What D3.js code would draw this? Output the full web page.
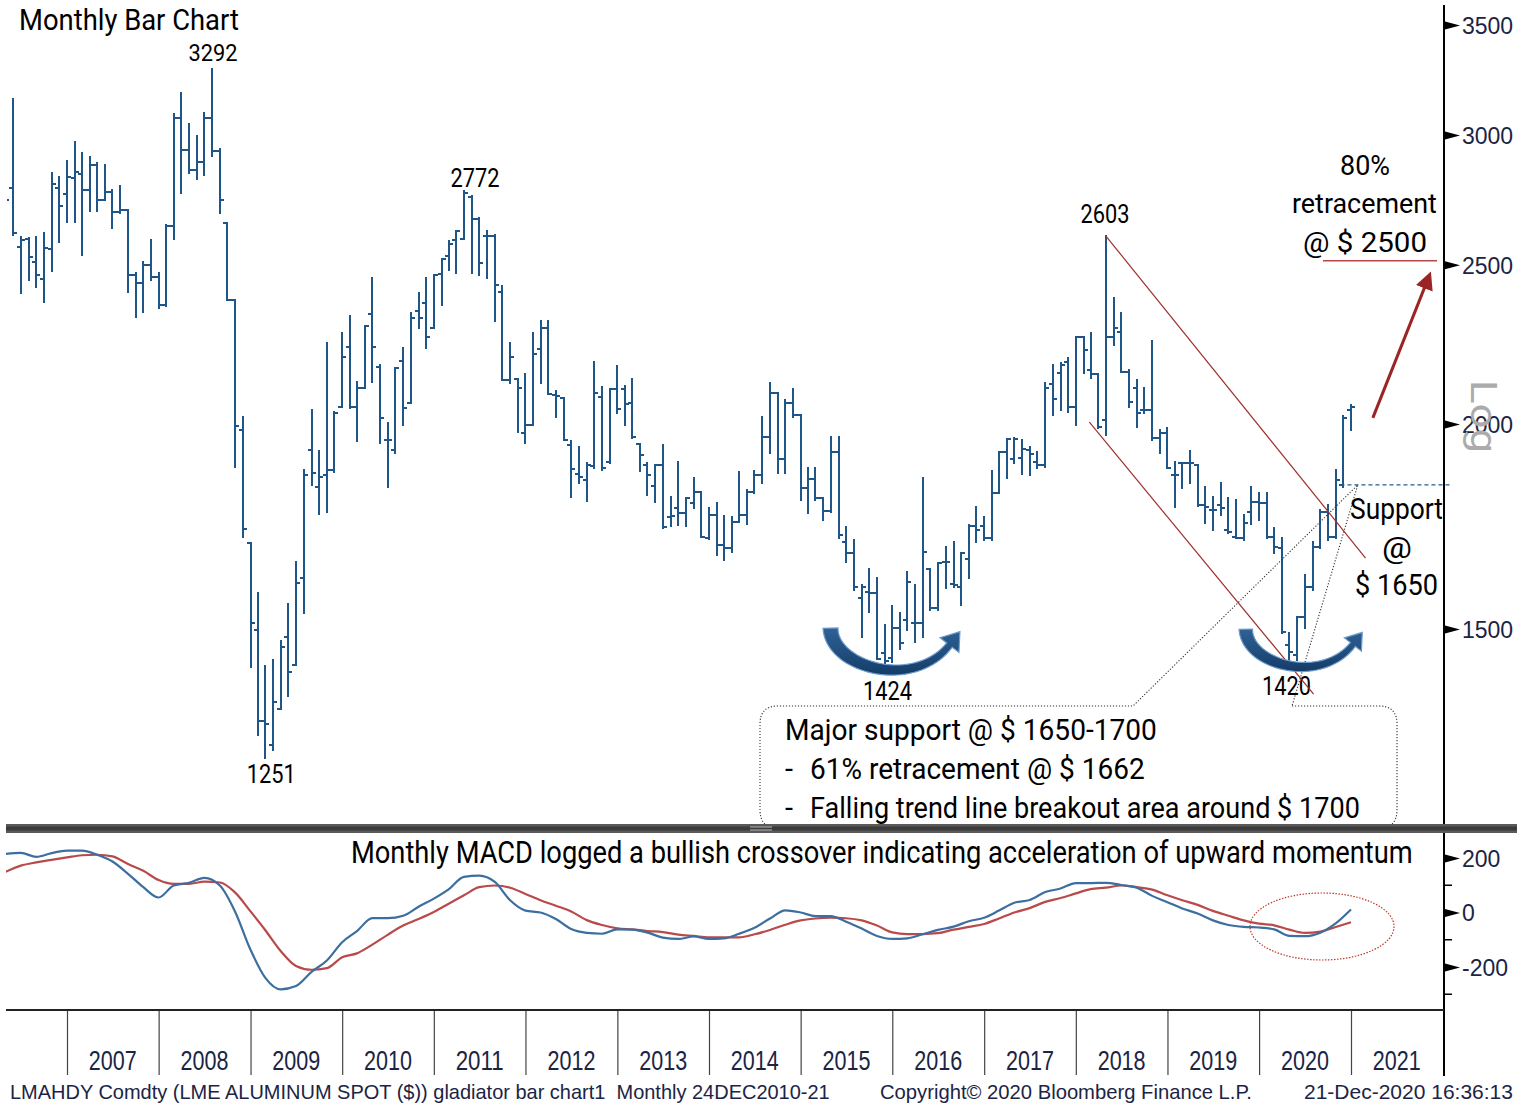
<!DOCTYPE html>
<html>
<head>
<meta charset="utf-8">
<script src="https://cdn.jsdelivr.net/npm/d3@7"></script>
<style>
  body { margin: 0; background: #fff; }
  svg { display: block; }
  .ann { font-family: Roboto, "Liberation Sans", sans-serif; fill: #000; }
  .axl { font-family: "Liberation Sans", Arial, sans-serif; fill: #1b2444; }
</style>
</head>
<body>
<svg id="chart" width="1517" height="1104"></svg>
<script>
// ---- data: LME aluminium spot, monthly bars from Apr 2006 to Dec 2020 ----
const firstBar = [2006, 3]; // April 2006 (0-based month)

const opens = [
  2700,2785,2563,2592,2510,2451,2556,2785,2761,
  2824,2840,2777,2876,2738,2769,2692,2700,2465,2437,2500,2458,
  2363,2640,3072,2937,2856,2888,3072,2933,2651,2380,1983,1692,
  1498,1318,1275,1341,1483,1426,1611,1928,1830,1862,1875,2048,
  2228,2048,2104,2334,2166,1956,1928,2185,2060,2343,2370,2288,
  2468,2531,2589,2592,2750,2666,2603,2603,2406,2127,2130,1975,
  1997,2222,2289,2083,2074,1942,1864,1849,1885,2077,1896,2100,
  2100,2060,1945,1888,1833,1888,1755,1778,1765,1790,1818,1704,
  1760,1688,1681,1743,1760,1818,1862,1964,2089,1904,2060,2025,
  1828,1852,1803,1770,1923,1695,1669,1567,1580,1578,1450,1440,
  1502,1519,1513,1513,1632,1545,1648,1598,1591,1655,1733,1733,
  1704,1815,1923,1904,1907,1928,1896,1888,2115,2148,2182,2048,
  2260,2157,2145,2011,2260,2275,2151,2104,2040,2040,1961,1975,
  1862,1893,1893,1888,1785,1773,1785,1724,1707,1704,1768,1793,
  1790,1707,1681,1467,1446,1526,1591,1683,1768,1707,1836,2040
];
const highs = [
  2816,3155,2600,2596,2600,2614,2844,2828,2892,
  2970,2925,2908,2884,2876,2777,2792,2700,2472,2510,2589,2472,
  2644,3089,3182,3046,2995,3093,3292,2940,2651,2380,2020,1692,
  1578,1424,1436,1475,1554,1648,1875,2040,1926,2241,2034,2272,
  2327,2121,2295,2455,2172,2003,2163,2225,2337,2403,2455,2465,
  2521,2585,2622,2772,2754,2670,2622,2607,2427,2241,2130,2145,
  2272,2311,2311,2095,2074,1953,1936,1893,2182,2106,2100,2169,
  2109,2130,1945,1893,1888,1942,1805,1896,1803,1854,1818,1778,
  1790,1758,1755,1870,1823,1872,2020,2118,2089,2068,2100,2025,
  1880,1880,1803,1964,1964,1731,1700,1596,1632,1611,1509,1549,
  1534,1625,1596,1854,1632,1646,1683,1695,1669,1736,1780,1755,
  1872,1923,1958,1961,1956,1936,1923,2118,2172,2179,2194,2260,
  2260,2272,2145,2603,2387,2337,2157,2127,2104,2247,1983,1989,
  1896,1893,1926,1888,1830,1805,1841,1803,1798,1760,1830,1815,
  1815,1728,1704,1492,1526,1618,1695,1773,1785,1875,2023,2054
];
const lows = [
  2589,2607,2403,2448,2424,2373,2479,2582,2655,
  2655,2535,2696,2696,2738,2633,2689,2407,2324,2340,2448,2353,
  2360,2592,2765,2844,2820,2836,2912,2689,2380,1883,1707,1422,
  1293,1251,1266,1341,1366,1426,1534,1836,1763,1768,1870,2048,
  2045,1953,2104,2121,1947,1830,1920,1997,2060,2289,2225,2288,
  2363,2482,2472,2592,2472,2465,2455,2311,2127,2118,1978,1947,
  1997,2118,2086,2020,1956,1805,1841,1795,1880,1875,1893,2031,
  1997,1961,1872,1810,1793,1728,1733,1736,1733,1778,1707,1702,
  1664,1653,1671,1743,1738,1815,1841,1920,1867,1867,2020,1798,
  1765,1798,1748,1768,1704,1648,1584,1483,1536,1438,1424,1432,
  1458,1498,1473,1483,1541,1541,1589,1590,1552,1611,1695,1700,
  1700,1815,1854,1893,1865,1862,1880,1883,2025,2040,2034,1997,
  2148,2133,1989,1970,2234,2151,2048,1992,2031,1956,1920,1880,
  1780,1828,1841,1783,1740,1724,1760,1716,1704,1700,1738,1748,
  1705,1669,1492,1420,1436,1502,1584,1681,1700,1704,1830,1983
];
const closes = [
  2738,2614,2589,2528,2465,2560,2801,2715,2828,
  2848,2777,2876,2738,2769,2692,2700,2465,2437,2500,2458,2363,
  2640,3072,2937,2856,2888,3072,2933,2738,2380,1993,1727,1513,
  1318,1312,1354,1462,1412,1600,1862,1867,1857,1875,2031,2197,
  2048,2104,2295,2228,2017,1956,2163,2045,2321,2321,2260,2465,
  2521,2574,2622,2765,2666,2507,2603,2430,2127,2197,2104,1997,
  2206,2289,2086,2080,1956,1878,1857,1888,2089,1880,2100,2042,
  2057,1964,1915,1862,1888,1731,1758,1765,1803,1818,1707,1760,
  1688,1681,1743,1760,1818,1862,1964,2089,1904,2060,2025,1828,
  1852,1803,1770,1923,1712,1669,1591,1591,1578,1438,1434,1502,
  1471,1602,1513,1671,1545,1646,1648,1596,1669,1733,1724,1704,
  1815,1923,1958,1958,1931,1918,1888,2104,2071,2172,2048,2260,
  2219,2145,1992,2260,2289,2151,2063,2031,2040,1961,1975,1880,
  1862,1893,1893,1785,1780,1773,1778,1719,1704,1740,1793,1790,
  1707,1683,1494,1452,1526,1591,1683,1768,1707,1849,2017,2048
];

// MACD panel, one reading every second month starting Apr 2006
const macdStep = 2;
const macdLine = [
  215,219,204,218,227,227,212,187,142,93,55,99,109,127,99,2,-137,-240,-282,-270,
  -218,-176,-109,-68,-21,-21,-12,21,51,85,131,135,112,45,7,0,-24,-61,-75,-78,
  -62,-63,-74,-92,-97,-88,-97,-95,-78,-56,-22,8,0,-13,-13,-34,-59,-86,-97,-95,
  -80,-64,-52,-32,-19,7,36,46,75,88,108,108,109,101,91,61,38,15,-4,-29,
  -46,-53,-55,-62,-86,-87,-74,-40,11
];
const signalLine = [
  149,172,184,193,202,210,212,206,178,153,119,105,105,113,110,73,4,-65,-141,-196,
  -210,-204,-164,-150,-118,-82,-48,-24,2,32,63,93,99,91,68,45,25,4,-28,-46,
  -58,-62,-68,-72,-81,-86,-91,-91,-91,-80,-64,-45,-29,-22,-19,-21,-29,-48,-73,-79,
  -79,-76,-63,-53,-42,-22,0,16,39,53,70,86,91,99,93,84,63,45,28,6,
  -12,-29,-41,-47,-63,-75,-70,-53,-36
];

const priceTicks = [1500, 2000, 2500, 3000, 3500];
const macdTicks = [200, 0, -200];
const macdMinor = [100, -100, -300];
const yearLabels = ["2007","2008","2009","2010","2011","2012","2013","2014","2015","2016","2017","2018","2019","2020","2021"];

// ---- layout ----
const svg = d3.select("#chart");
const left = 6, right = 1444;
const mainTop = 0, mainBottom = 824;
const macdTop = 834, macdBottom = 1010;

const x = d3.scaleUtc()
  .domain([new Date(Date.UTC(2007, 0, 1)), new Date(Date.UTC(2021, 0, 1))])
  .range([67, 1351]);
const yP = d3.scaleLog().domain([3500, 1500]).range([25, 629]);
const yM = d3.scaleLinear().domain([200, -200]).range([858, 967]);

const barColor = "#1f5689";

const bars = opens.map((o, i) => ({
  date: new Date(Date.UTC(firstBar[0], firstBar[1] + i + 1, 1)),
  o: o, h: highs[i], l: lows[i], c: closes[i]
}));

const defs = svg.append("defs");
defs.append("clipPath").attr("id", "clipMain")
  .append("rect").attr("x", left + 1).attr("y", mainTop).attr("width", right - left - 1).attr("height", mainBottom - mainTop);
defs.append("clipPath").attr("id", "clipMacd")
  .append("rect").attr("x", left).attr("y", macdTop).attr("width", right - left).attr("height", macdBottom - macdTop);

// ---- price bars ----
const gBars = svg.append("g").attr("clip-path", "url(#clipMain)")
  .attr("stroke", barColor).attr("stroke-width", 2).attr("shape-rendering", "crispEdges");
const bx = d => Math.round(x(d.date));
gBars.selectAll("line.hl").data(bars).join("line").attr("class", "hl")
  .attr("x1", bx).attr("x2", bx)
  .attr("y1", d => yP(d.h) - 1).attr("y2", d => yP(d.l) + 1);
gBars.selectAll("line.op").data(bars).join("line").attr("class", "op")
  .attr("x1", d => bx(d) - 4).attr("x2", bx)
  .attr("y1", d => yP(d.o)).attr("y2", d => yP(d.o));
gBars.selectAll("line.cl").data(bars).join("line").attr("class", "cl")
  .attr("x1", bx).attr("x2", d => bx(d) + 4)
  .attr("y1", d => yP(d.c)).attr("y2", d => yP(d.c));

// text squeezed horizontally to a target width (condensed look)
function fitText(sel, px, py, w, anchor) {
  const node = sel.node();
  const nat = node.getComputedTextLength();
  const k = w / nat;
  const x0 = anchor === "middle" ? px - w / 2 : px;
  sel.attr("text-anchor", "start").attr("x", 0).attr("y", 0)
    .attr("transform", `translate(${x0},${py}) scale(${k},1)`);
  return sel;
}

// ---- right price axis ----
const tri = "M0,-4L15,0L0,4Z";
const plain = d => String(d);
const axP = svg.append("g").attr("transform", `translate(${right},0)`)
  .call(d3.axisRight(yP).tickValues(priceTicks).tickSize(0).tickFormat(plain));
axP.select(".domain").remove();
axP.selectAll(".tick").append("path").attr("d", tri).attr("fill", "#000").attr("transform", "translate(1,0)");
axP.selectAll(".tick text").attr("x", 18).attr("dy", "0.36em")
  .attr("class", "axl").style("font-size", "23px").attr("fill", "#1b2444")
  .attr("text-anchor", "start").attr("font-family", null);

// "Log" marker
svg.append("text").attr("class", "ann")
  .attr("transform", "translate(1471,380) rotate(90)")
  .style("fill", "#ababab")
  .style("font-size", "36px").attr("textLength", 73).attr("lengthAdjust", "spacingAndGlyphs")
  .text("Log");

// ---- MACD panel ----
const macdDates = macdLine.map((v, i) => new Date(Date.UTC(firstBar[0], firstBar[1] + i * macdStep + 1, 1)));
const gM = svg.append("g").attr("clip-path", "url(#clipMacd)");
const lineM = d3.line().x((d, i) => x(macdDates[i])).y(d => yM(d)).curve(d3.curveMonotoneX);
gM.append("path").datum(signalLine).attr("d", lineM)
  .attr("fill", "none").attr("stroke", "#b94a4a").attr("stroke-width", 2.2);
gM.append("path").datum(macdLine).attr("d", lineM)
  .attr("fill", "none").attr("stroke", "#3c6e9f").attr("stroke-width", 2.2);

const axM = svg.append("g").attr("transform", `translate(${right},0)`)
  .call(d3.axisRight(yM).tickValues(macdTicks).tickSize(0).tickFormat(plain));
axM.select(".domain").remove();
axM.selectAll(".tick").append("path").attr("d", tri).attr("fill", "#000").attr("transform", "translate(1,0)");
axM.selectAll(".tick text").attr("x", 18).attr("dy", "0.36em")
  .attr("class", "axl").style("font-size", "23px").attr("fill", "#1b2444").attr("font-family", null);
svg.append("g").selectAll("line").data(macdMinor).join("line")
  .attr("x1", right).attr("x2", right + 8)
  .attr("y1", d => yM(d)).attr("y2", d => yM(d))
  .attr("stroke", "#000").attr("stroke-width", 1.5);

// axis line on the right
svg.append("line").attr("x1", right).attr("x2", right).attr("y1", 5).attr("y2", 1076)
  .attr("stroke", "#000").attr("stroke-width", 2);

// ---- bottom time axis ----
const axB = svg.append("g").attr("transform", `translate(0,${macdBottom})`)
  .call(d3.axisBottom(x).ticks(d3.utcYear.every(1)).tickSize(65).tickFormat(""));
axB.select(".domain").remove();
axB.selectAll(".tick line").attr("stroke", "#444").attr("stroke-width", 1.2);
svg.append("line").attr("x1", left).attr("x2", right).attr("y1", macdBottom).attr("y2", macdBottom)
  .attr("stroke", "#222").attr("stroke-width", 2);
const gYears = svg.append("g");
yearLabels.forEach(d => {
  const cx = (x(new Date(Date.UTC(+d, 0, 1))) + x(new Date(Date.UTC(+d + 1, 0, 1)))) / 2;
  fitText(gYears.append("text").attr("class", "axl").style("font-size", "27px").text(d), cx, 1070, 48, "middle");
});

// footer
const foot = [
  {t: "LMAHDY Comdty (LME ALUMINUM SPOT ($)) gladiator bar chart1  Monthly 24DEC2010-21", x: 10, w: 820},
  {t: "Copyright\u00A9 2020 Bloomberg Finance L.P.", x: 880, w: 372},
  {t: "21-Dec-2020 16:36:13", x: 1304, w: 209}
];
const gFoot = svg.append("g");
foot.forEach(d => {
  fitText(gFoot.append("text").attr("class", "axl").style("font-size", "20px")
    .style("white-space", "pre").text(d.t), d.x, 1099, d.w, "start");
});

// ---- annotations ----
function label(txt, px, py, size, w, anchor) {
  const t = svg.append("text").attr("class", "ann").style("font-size", size + "px").text(txt);
  return fitText(t, px, py, w, anchor || "middle");
}
label("Monthly Bar Chart", 19, 30, 29, 220, "start");

const barOf = (yr, m) => bars[(yr - firstBar[0]) * 12 + m - firstBar[1]];
const peaks = [
  {b: barOf(2008, 6), v: "h", dx: 1, dy: -8, s: 24},
  {b: barOf(2011, 3), v: "h", dx: 11, dy: -4, s: 25},
  {b: barOf(2018, 3), v: "h", dx: -1, dy: -13, s: 25},
  {b: barOf(2015, 10), v: "l", dx: 3, dy: 34, s: 25},
  {b: barOf(2020, 3), v: "l", dx: -3, dy: 27, s: 25},
  {b: barOf(2009, 1), v: "l", dx: 6, dy: 25, s: 25}
];
peaks.forEach(p => label(String(p.b[p.v]), x(p.b.date) + p.dx, yP(p.b[p.v]) + p.dy, p.s, 49));

// falling channel lines
const redLines = [
  [[Date.UTC(2018, 4, 1), 2603], [Date.UTC(2021, 1, 28), 1657]],
  [[Date.UTC(2018, 1, 24), 2005], [Date.UTC(2020, 7, 5), 1369]]
];
svg.append("g").selectAll("line").data(redLines).join("line")
  .attr("x1", d => x(d[0][0])).attr("y1", d => yP(d[0][1]))
  .attr("x2", d => x(d[1][0])).attr("y2", d => yP(d[1][1]))
  .attr("stroke", "#a0302c").attr("stroke-width", 1.2);

// support level & callout
const apex = [x(Date.UTC(2021, 0, 28)), yP(1836)];
svg.append("line").attr("x1", x(Date.UTC(2020, 10, 20))).attr("x2", 1450)
  .attr("y1", apex[1]).attr("y2", apex[1])
  .attr("stroke", "#2a5a8a").attr("stroke-width", 1.2).attr("stroke-dasharray", "4,3");

const bxL = 760, bxR = 1397, bxT = 706, bxB = 828, r = 18;
const gap0 = 1133, gap1 = 1292;
const boxPath = `M${gap1},${bxT}L${bxR - r},${bxT}Q${bxR},${bxT} ${bxR},${bxT + r}L${bxR},${bxB - r}Q${bxR},${bxB} ${bxR - r},${bxB}` +
  `L${bxL + r},${bxB}Q${bxL},${bxB} ${bxL},${bxB - r}L${bxL},${bxT + r}Q${bxL},${bxT} ${bxL + r},${bxT}L${gap0},${bxT}` +
  `L${apex[0]},${apex[1]}L${gap1},${bxT}`;
svg.append("path").attr("d", boxPath).attr("fill", "none")
  .attr("stroke", "#333").attr("stroke-width", 1.1).attr("stroke-dasharray", "1.2,1.8");

label("Major support @ $ 1650-1700", 785, 740, 30, 372, "start");
label("-", 785, 779, 30, 8, "start");
label("61% retracement @ $ 1662", 810, 779, 30, 335, "start");
label("-", 785, 818, 30, 8, "start");
label("Falling trend line breakout area around $ 1700", 810, 818, 30, 550, "start");

label("Support", 1350, 519, 30, 93, "start");
label("@", 1397, 558, 30, 30);
label("$ 1650", 1396.5, 595, 30, 83);

// 80% retracement target
label("80%", 1365, 175, 28, 50);
label("retracement", 1364.5, 213, 28, 145);
label("@ $ 2500", 1365, 252, 28, 124);
svg.append("line").attr("x1", 1323).attr("x2", 1437).attr("y1", yP(2500) - 4).attr("y2", yP(2500) - 4)
  .attr("stroke", "#b84848").attr("stroke-width", 1.5);

defs.append("marker").attr("id", "rhead").attr("viewBox", "0 0 10 10")
  .attr("refX", 8).attr("refY", 5).attr("markerWidth", 6).attr("markerHeight", 6)
  .attr("orient", "auto").attr("markerUnits", "strokeWidth")
  .append("path").attr("d", "M0,0L10,5L0,10Z").attr("fill", "#9c2424");
svg.append("line")
  .attr("x1", x(Date.UTC(2021, 2, 29))).attr("y1", yP(2017))
  .attr("x2", x(Date.UTC(2021, 10, 10))).attr("y2", yP(2465))
  .attr("stroke", "#9c2424").attr("stroke-width", 3).attr("marker-end", "url(#rhead)");

// curved "rounding bottom" arrows
const grad = defs.append("linearGradient").attr("id", "arrowGrad")
  .attr("x1", 0).attr("y1", 0).attr("x2", 0).attr("y2", 1);
grad.append("stop").attr("offset", "0%").attr("stop-color", "#2f6296");
grad.append("stop").attr("offset", "100%").attr("stop-color", "#143c68");

function curvedArrow(ax, ay, s) {
  const P = [[-53, -41], [-52, -1], [31, 21], [66, -24]].map(p => [ax + p[0] * s, ay + p[1] * s]);
  const bez = t => {
    const u = 1 - t;
    return [0, 1].map(k => u * u * u * P[0][k] + 3 * u * u * t * P[1][k] + 3 * u * t * t * P[2][k] + t * t * t * P[3][k]);
  };
  const der = t => {
    const u = 1 - t;
    return [0, 1].map(k => 3 * u * u * (P[1][k] - P[0][k]) + 6 * u * t * (P[2][k] - P[1][k]) + 3 * t * t * (P[3][k] - P[2][k]));
  };
  const L = [], R = [];
  for (let i = 0; i <= 40; i++) {
    const t = i / 40, p = bez(t), d = der(t), len = Math.hypot(d[0], d[1]);
    const nx = -d[1] / len, ny = d[0] / len, w = (15 - 8 * t) * s / 2;
    L.push([p[0] + nx * w, p[1] + ny * w]);
    R.push([p[0] - nx * w, p[1] - ny * w]);
  }
  const d1 = der(1), len1 = Math.hypot(d1[0], d1[1]);
  const tx = d1[0] / len1, ty = d1[1] / len1, nx = -ty, ny = tx, hw = 12 * s;
  const e = P[3];
  const head = [
    [e[0] + nx * hw, e[1] + ny * hw],
    [e[0] + tx * 17 * s, e[1] + ty * 17 * s],
    [e[0] - nx * hw, e[1] - ny * hw]
  ];
  const pts = L.concat(head, R.reverse());
  svg.append("path").attr("d", "M" + pts.map(p => p.join(",")).join("L") + "Z")
    .attr("fill", "url(#arrowGrad)").attr("stroke", "#6d9bcb").attr("stroke-width", 1.2);
}
curvedArrow(x(barOf(2015, 10).date) - 1, yP(1424) + 3, 1);
curvedArrow(x(barOf(2020, 3).date) + 4, yP(1420) - 2, 0.9);

// MACD comment and crossover circle
label("Monthly MACD logged a bullish crossover indicating acceleration of upward momentum", 351, 863, 31, 1062, "start");
svg.append("ellipse").attr("cx", 1322).attr("cy", 926.5).attr("rx", 72).attr("ry", 33.5)
  .attr("fill", "none").attr("stroke", "#c0392b").attr("stroke-width", 1.2).attr("stroke-dasharray", "1.5,1.5");

// panel separator bar
svg.append("rect").attr("x", left).attr("y", 824).attr("width", 1517 - left).attr("height", 9).attr("fill", "#5a5a5a");
svg.append("rect").attr("x", left).attr("y", 826.5).attr("width", 1517 - left).attr("height", 4).attr("fill", "#3b3b3b");
svg.append("g").selectAll("line").data([0, 1]).join("line")
  .attr("x1", 750).attr("x2", 772).attr("y1", d => 827 + d * 3).attr("y2", d => 827 + d * 3)
  .attr("stroke", "#bbb").attr("stroke-width", 1);
</script>
</body>
</html>
